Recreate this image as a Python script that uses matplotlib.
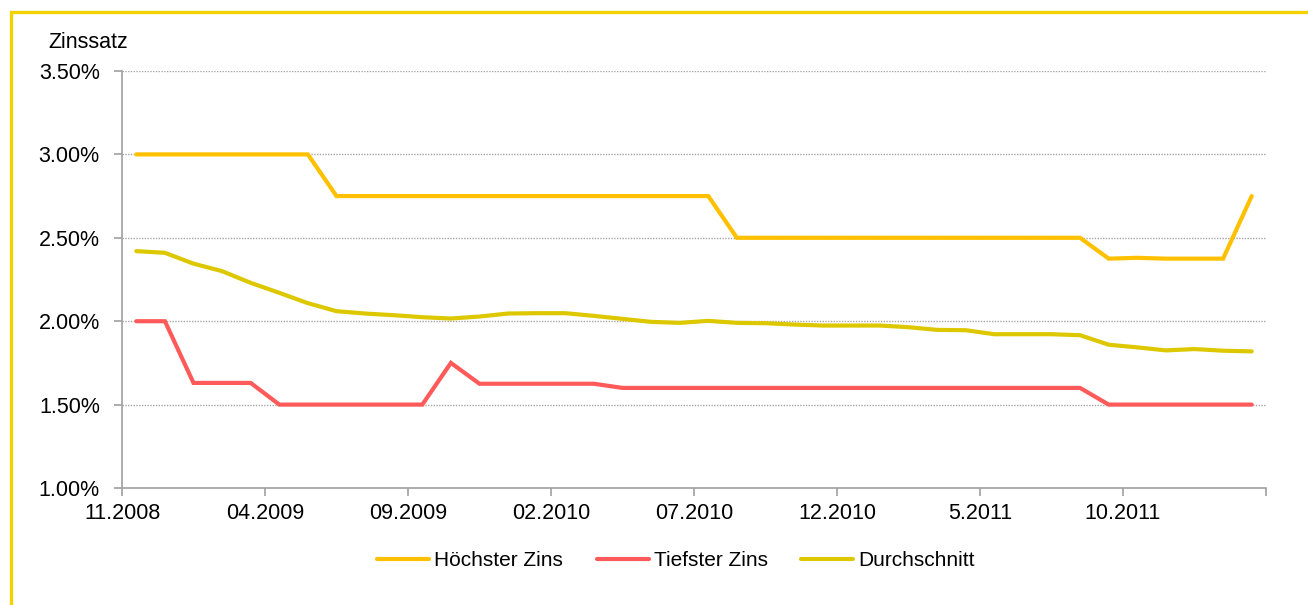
import matplotlib
matplotlib.use("Agg")
import matplotlib.pyplot as plt
from matplotlib.patches import Rectangle
import numpy as np

plt.rcParams['font.family'] = ['Liberation Sans', 'DejaVu Sans']

# Monthly categories 11.2008 .. 02.2012
months = [f"{m:02d}.{y}" for y, m in
          [(2008, 11), (2008, 12)] + [(2009, k) for k in range(1, 13)]
          + [(2010, k) for k in range(1, 13)] + [(2011, k) for k in range(1, 13)]
          + [(2012, 1), (2012, 2)]]

hoechster = [3.00, 3.00, 3.00, 3.00, 3.00, 3.00, 3.00, 2.75, 2.75, 2.75,
             2.75, 2.75, 2.75, 2.75, 2.75, 2.75, 2.75, 2.75, 2.75, 2.75,
             2.75, 2.50, 2.50, 2.50, 2.50, 2.50, 2.50, 2.50, 2.50, 2.50,
             2.50, 2.50, 2.50, 2.50, 2.375, 2.38, 2.375, 2.375, 2.375, 2.75]

tiefster = [2.00, 2.00, 1.63, 1.63, 1.63, 1.50, 1.50, 1.50, 1.50, 1.50,
            1.50, 1.75, 1.625, 1.625, 1.625, 1.625, 1.625, 1.60, 1.60, 1.60,
            1.60, 1.60, 1.60, 1.60, 1.60, 1.60, 1.60, 1.60, 1.60, 1.60,
            1.60, 1.60, 1.60, 1.60, 1.50, 1.50, 1.50, 1.50, 1.50, 1.50]

durchschnitt = [2.42, 2.41, 2.345, 2.30, 2.23, 2.17, 2.108, 2.06, 2.046, 2.036,
                2.024, 2.016, 2.028, 2.046, 2.048, 2.048, 2.032, 2.014, 1.996, 1.99,
                2.002, 1.99, 1.988, 1.98, 1.974, 1.974, 1.974, 1.964, 1.948, 1.946,
                1.922, 1.922, 1.922, 1.916, 1.859, 1.843, 1.825, 1.833, 1.823, 1.819]

tick_labels = ["11.2008", "04.2009", "09.2009", "02.2010", "07.2010",
               "12.2010", "5.2011", "10.2011"]
y_ticks = [1.00, 1.50, 2.00, 2.50, 3.00, 3.50]

series_names = ["Höchster Zins", "Tiefster Zins", "Durchschnitt"]
colors = ["#FFC000", "#FF5A5A", "#DDC800"]

W, H = 1308, 605
fig = plt.figure(figsize=(W / 100, H / 100), dpi=100)
fig.patch.set_facecolor("white")

ax = fig.add_axes([122 / W, 1 - 488 / H, (1266 - 122) / W, (488 - 71) / H])

x = np.arange(len(months))
for vals, name, col in zip([hoechster, tiefster, durchschnitt], series_names, colors):
    ax.plot(x, vals, color=col, lw=3.0, label=name, solid_capstyle="round",
            solid_joinstyle="miter", zorder=3)

ax.set_xlim(-0.5, len(months) - 0.5)
ax.set_ylim(1.0, 3.5)

ax.set_yticks(y_ticks)
ax.set_yticklabels([f"{v:.2f}%" for v in y_ticks])
ax.yaxis.grid(True, color="#A6A6A6", linestyle=(0, (1, 1)), linewidth=1.0, zorder=1)

xt = np.arange(-0.5, len(months), 5)
ax.set_xticks(xt)
ax.set_xticklabels(tick_labels + [""] * (len(xt) - len(tick_labels)))

for s in ["top", "right"]:
    ax.spines[s].set_visible(False)
for s in ["left", "bottom"]:
    ax.spines[s].set_color("#A0A0A0")
    ax.spines[s].set_linewidth(1.2)

ax.tick_params(axis="both", colors="#A0A0A0", labelcolor="black",
               labelsize=15.5, length=6, width=1.2, direction="out")
ax.tick_params(axis="y", pad=10)
ax.tick_params(axis="x", pad=5)

fig.text(48 / W, 1 - 42 / H, "Zinssatz", fontsize=15.5, va="center", ha="left")

fig.legend(loc="center", bbox_to_anchor=(676 / W, 1 - 561 / H), ncol=3,
           frameon=False, fontsize=15, handlelength=2.5, handletextpad=0.25,
           columnspacing=1.6)

# outer frame of the chart area
fig.patches.append(Rectangle((10.5 / W, -0.1), 1.2, 1 - 11.5 / H + 0.1,
                             transform=fig.transFigure, fill=False,
                             edgecolor="#F2D300", linewidth=2.4, zorder=0))

fig.savefig("out.png", dpi=100, facecolor="white")
